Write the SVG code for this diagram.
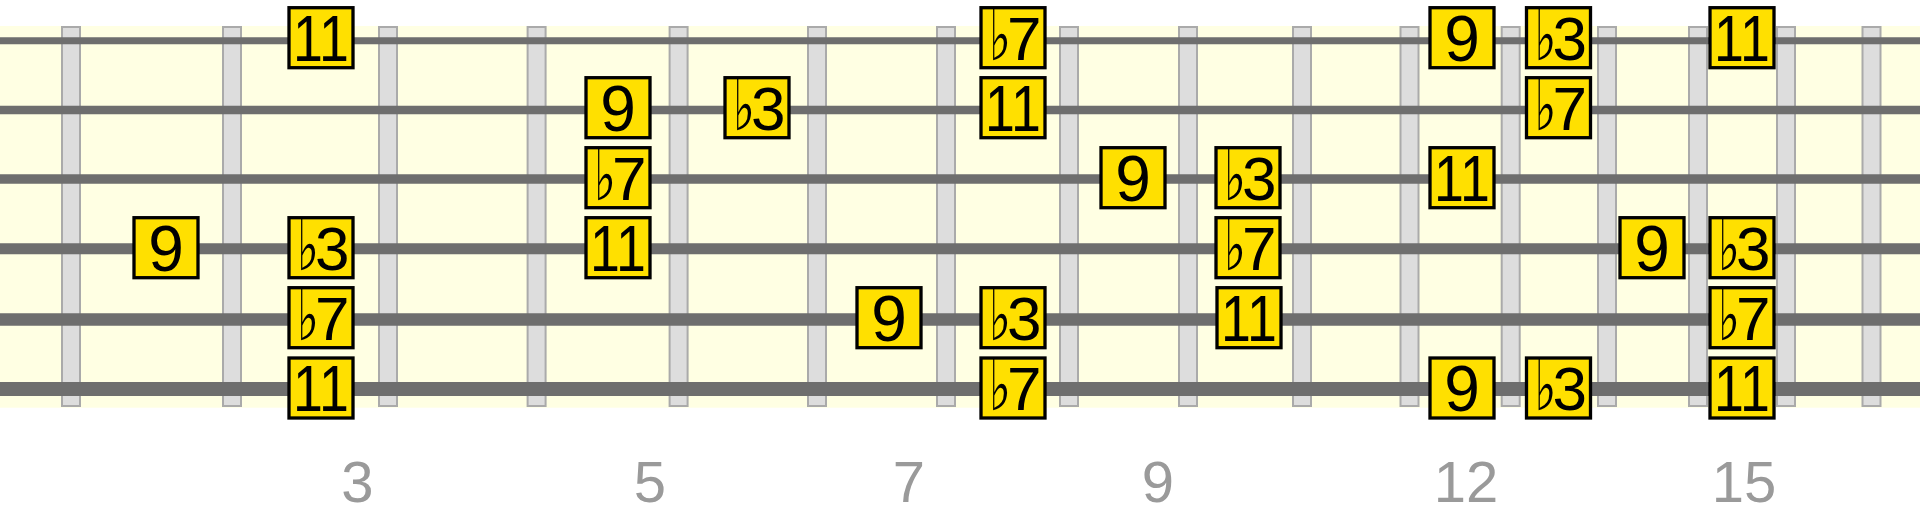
<svg xmlns="http://www.w3.org/2000/svg" width="1920" height="511" viewBox="0 0 1920 511">
<style>
.bg{fill:#ffffe3}
.fret{fill:#dddddd;stroke:#aaaaaa;stroke-width:2}
.str{stroke:#6e6e6e}
.box{fill:#ffe000;stroke:#000;stroke-width:3.3}
.t{font-family:"Liberation Sans",Arial,sans-serif;font-size:64px;fill:#000;text-anchor:middle}
.d{font-family:"Liberation Sans",Arial,sans-serif;font-size:62px;fill:#000;text-anchor:start}
.f{font-family:"DejaVu Sans",sans-serif;font-size:70px;fill:#000;text-anchor:middle}
.lbl{font-family:"Liberation Sans",Arial,sans-serif;font-size:58px;fill:#9a9a9a;text-anchor:middle}
</style>
<defs>
<rect id="b" class="box" x="-32" y="-30" width="64" height="60"/>
<text id="fl" class="f" x="-20" y="22" transform="scale(0.66,1)">♭</text>
</defs>
<rect class="bg" x="0" y="26" width="1920" height="381.7"/>
<g id="frets">
<rect class="fret" x="62" y="27" width="18" height="379"/>
<rect class="fret" x="223" y="27" width="18" height="379"/>
<rect class="fret" x="379" y="27" width="18" height="379"/>
<rect class="fret" x="527.6" y="27" width="18" height="379"/>
<rect class="fret" x="669.6" y="27" width="18" height="379"/>
<rect class="fret" x="808" y="27" width="18" height="379"/>
<rect class="fret" x="937" y="27" width="18" height="379"/>
<rect class="fret" x="1060" y="27" width="18" height="379"/>
<rect class="fret" x="1179" y="27" width="18" height="379"/>
<rect class="fret" x="1293" y="27" width="18" height="379"/>
<rect class="fret" x="1400.5" y="27" width="18" height="379"/>
<rect class="fret" x="1501.7" y="27" width="18" height="379"/>
<rect class="fret" x="1598" y="27" width="18" height="379"/>
<rect class="fret" x="1689" y="27" width="18" height="379"/>
<rect class="fret" x="1777" y="27" width="18" height="379"/>
<rect class="fret" x="1862.5" y="27" width="18" height="379"/>
</g>
<g id="strings">
<line class="str" x1="0" y1="40.7" x2="1920" y2="40.7" stroke-width="7"/>
<line class="str" x1="0" y1="110" x2="1920" y2="110" stroke-width="8.3"/>
<line class="str" x1="0" y1="179" x2="1920" y2="179" stroke-width="9.3"/>
<line class="str" x1="0" y1="248.7" x2="1920" y2="248.7" stroke-width="11"/>
<line class="str" x1="0" y1="319.5" x2="1920" y2="319.5" stroke-width="12.5"/>
<line class="str" x1="0" y1="389" x2="1920" y2="389" stroke-width="14"/>
</g>
<g id="s1">
<g id="n1a" transform="translate(321,37.7)"><use href="#b"/><text class="t" y="23" transform="scale(0.84,1)">11</text></g>
<g id="n1b" transform="translate(1013,37.7)"><use href="#b"/><use href="#fl"/><text class="d" x="-6" y="22">7</text></g>
<g id="n1c" transform="translate(1462,37.7)"><use href="#b"/><text class="t" y="23">9</text></g>
<g id="n1d" transform="translate(1558.5,37.7)"><use href="#b"/><use href="#fl"/><text class="d" x="-6" y="22">3</text></g>
<g id="n1e" transform="translate(1742,37.7)"><use href="#b"/><text class="t" y="23" transform="scale(0.84,1)">11</text></g>
</g>
<g id="s2">
<g id="n2a" transform="translate(618,107.7)"><use href="#b"/><text class="t" y="23">9</text></g>
<g id="n2b" transform="translate(757,107.7)"><use href="#b"/><use href="#fl"/><text class="d" x="-6" y="22">3</text></g>
<g id="n2c" transform="translate(1013,107.7)"><use href="#b"/><text class="t" y="23" transform="scale(0.84,1)">11</text></g>
<g id="n2d" transform="translate(1558.5,107.7)"><use href="#b"/><use href="#fl"/><text class="d" x="-6" y="22">7</text></g>
</g>
<g id="s3">
<g id="n3a" transform="translate(618,177.7)"><use href="#b"/><use href="#fl"/><text class="d" x="-6" y="22">7</text></g>
<g id="n3b" transform="translate(1133,177.7)"><use href="#b"/><text class="t" y="23">9</text></g>
<g id="n3c" transform="translate(1248,177.7)"><use href="#b"/><use href="#fl"/><text class="d" x="-6" y="22">3</text></g>
<g id="n3d" transform="translate(1462,177.7)"><use href="#b"/><text class="t" y="23" transform="scale(0.84,1)">11</text></g>
</g>
<g id="s4">
<g id="n4a" transform="translate(166,247.7)"><use href="#b"/><text class="t" y="23">9</text></g>
<g id="n4b" transform="translate(321,247.7)"><use href="#b"/><use href="#fl"/><text class="d" x="-6" y="22">3</text></g>
<g id="n4c" transform="translate(618,247.7)"><use href="#b"/><text class="t" y="23" transform="scale(0.84,1)">11</text></g>
<g id="n4d" transform="translate(1248,247.7)"><use href="#b"/><use href="#fl"/><text class="d" x="-6" y="22">7</text></g>
<g id="n4e" transform="translate(1652,247.7)"><use href="#b"/><text class="t" y="23">9</text></g>
<g id="n4f" transform="translate(1742,247.7)"><use href="#b"/><use href="#fl"/><text class="d" x="-6" y="22">3</text></g>
</g>
<g id="s5">
<g id="n5a" transform="translate(321,317.7)"><use href="#b"/><use href="#fl"/><text class="d" x="-6" y="22">7</text></g>
<g id="n5b" transform="translate(889,317.7)"><use href="#b"/><text class="t" y="23">9</text></g>
<g id="n5c" transform="translate(1013,317.7)"><use href="#b"/><use href="#fl"/><text class="d" x="-6" y="22">3</text></g>
<g id="n5d" transform="translate(1249,317.7)"><use href="#b"/><text class="t" y="23" transform="scale(0.84,1)">11</text></g>
<g id="n5e" transform="translate(1742,317.7)"><use href="#b"/><use href="#fl"/><text class="d" x="-6" y="22">7</text></g>
</g>
<g id="s6">
<g id="n6a" transform="translate(321,388)"><use href="#b"/><text class="t" y="23" transform="scale(0.84,1)">11</text></g>
<g id="n6b" transform="translate(1013,388)"><use href="#b"/><use href="#fl"/><text class="d" x="-6" y="22">7</text></g>
<g id="n6c" transform="translate(1462,388)"><use href="#b"/><text class="t" y="23">9</text></g>
<g id="n6d" transform="translate(1558.5,388)"><use href="#b"/><use href="#fl"/><text class="d" x="-6" y="22">3</text></g>
<g id="n6e" transform="translate(1742,388)"><use href="#b"/><text class="t" y="23" transform="scale(0.84,1)">11</text></g>
</g>
<g id="labels">
<text class="lbl" x="357.5" y="501.5">3</text>
<text class="lbl" x="650" y="501.5">5</text>
<text class="lbl" x="909" y="501.5">7</text>
<text class="lbl" x="1158" y="501.5">9</text>
<text class="lbl" x="1466" y="501.5">12</text>
<text class="lbl" x="1744" y="501.5">15</text>
</g>
</svg>
